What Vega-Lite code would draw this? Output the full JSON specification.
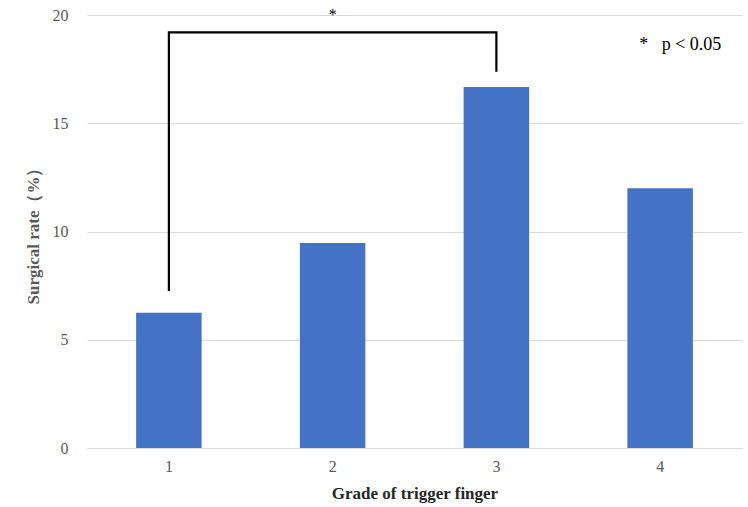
{
  "$schema": "https://vega.github.io/schema/vega-lite/v6.json",
  "width": 655,
  "height": 433,
  "padding": {"left": 87, "top": 15, "right": 6, "bottom": 59},
  "autosize": {"type": "none"},
  "background": "white",
  "config": {
    "view": {"stroke": null},
    "font": "Liberation Serif"
  },
  "datasets": {
    "bars": [
      {"grade": "1", "rate": 6.25},
      {"grade": "2", "rate": 9.47},
      {"grade": "3", "rate": 16.67},
      {"grade": "4", "rate": 12.0}
    ],
    "bracket": [
      {"grade": "1", "y": 7.3, "o": 1},
      {"grade": "1", "y": 19.2, "o": 2},
      {"grade": "3", "y": 19.2, "o": 3},
      {"grade": "3", "y": 17.43, "o": 4}
    ],
    "star": [{"grade": "2", "y": 20.0, "label": "*"}],
    "note": [{"grade": "4", "y": 18.6, "label": "*\u00a0\u00a0\u00a0p < 0.05"}]
  },
  "layer": [
    {
      "data": {"name": "bars"},
      "mark": {"type": "bar", "color": "#4472C4"},
      "encoding": {
        "x": {
          "field": "grade", "type": "ordinal",
          "scale": {"paddingInner": 0.6, "paddingOuter": 0.3},
          "axis": {
            "title": "Grade of trigger finger",
            "titleFont": "Liberation Serif", "titleFontSize": 17, "titleFontWeight": "bold", "titleColor": "#262626",
            "titlePadding": 11,
            "labelAngle": 0, "labelFont": "Liberation Serif", "labelFontSize": 16, "labelColor": "#595959",
            "labelPadding": 10,
            "ticks": false, "domainColor": "#D9D9D9", "domainWidth": 1
          }
        },
        "y": {
          "field": "rate", "type": "quantitative",
          "scale": {"domain": [0, 20]},
          "axis": {
            "title": "Surgical rate（%）",
            "titleFont": "Liberation Serif", "titleFontSize": 17, "titleFontWeight": "bold", "titleColor": "#595959",
            "titlePadding": 10,
            "values": [0, 5, 10, 15, 20],
            "labelFont": "Liberation Serif", "labelFontSize": 16, "labelColor": "#595959",
            "labelPadding": 19,
            "ticks": false, "domain": false,
            "gridColor": "#D9D9D9", "gridWidth": 1
          }
        }
      }
    },
    {
      "data": {"name": "bracket"},
      "mark": {"type": "line", "color": "#000000", "strokeWidth": 2.2, "strokeCap": "square"},
      "encoding": {
        "x": {"field": "grade", "type": "ordinal"},
        "y": {"field": "y", "type": "quantitative"},
        "order": {"field": "o"}
      }
    },
    {
      "data": {"name": "star"},
      "mark": {"type": "text", "fontSize": 16, "font": "Liberation Serif", "color": "#000000", "baseline": "middle"},
      "encoding": {
        "x": {"field": "grade", "type": "ordinal"},
        "y": {"field": "y", "type": "quantitative"},
        "text": {"field": "label"}
      }
    },
    {
      "data": {"name": "note"},
      "mark": {"type": "text", "fontSize": 18, "font": "Liberation Serif", "color": "#000000", "baseline": "middle", "align": "left", "dx": -21},
      "encoding": {
        "x": {"field": "grade", "type": "ordinal"},
        "y": {"field": "y", "type": "quantitative"},
        "text": {"field": "label"}
      }
    }
  ]
}
